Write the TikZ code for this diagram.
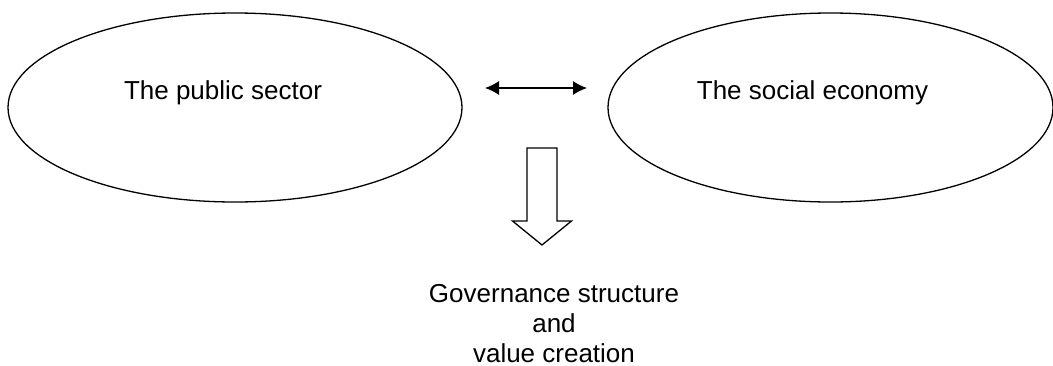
\documentclass[tikz,border=0pt]{standalone}
\usepackage{fontspec}
\setmainfont{Liberation Sans}
\usetikzlibrary{shapes.geometric, arrows.meta, positioning}

\begin{document}
\begin{tikzpicture}[x=1pt, y=-1pt, >={Latex[length=14pt,width=14pt]}, line width=1.3pt,
    oval/.style={draw, ellipse, minimum width=454pt, minimum height=189pt, inner sep=0pt},
    lbl/.style={font=\fontsize{26}{30}\selectfont, anchor=base, inner sep=0pt}]
    \useasboundingbox (0,0) rectangle (1053,365);

    % The two partners
    \node[oval] (pub) at (235,107.5) {};
    \node[oval, minimum width=445pt] (soc) at (830.5,107.5) {};
    \node[lbl] (publbl) at (223,99) {The public sector};
    \node[lbl] (soclbl) at (812.5,99) {The social economy};

    % Interaction between them
    \coordinate (lend) at (485,88);
    \coordinate (rend) at (587,88);
    \draw[<->] (lend) -- (rend);

    % Hollow block arrow pointing down
    \coordinate (top) at (542,148);
    \draw (top) ++(-15,0) -- ++(30,0) -- ++(0,73) -- ++(14.5,0)
        -- ++(-29.5,24) -- ++(-29.5,-24) -- ++(14.5,0) -- cycle;

    % Outcome (anchor=base sits on the last line)
    \node[lbl, align=center] (gov) at (554,362) {Governance structure\\and\\value creation};
\end{tikzpicture}
\end{document}
